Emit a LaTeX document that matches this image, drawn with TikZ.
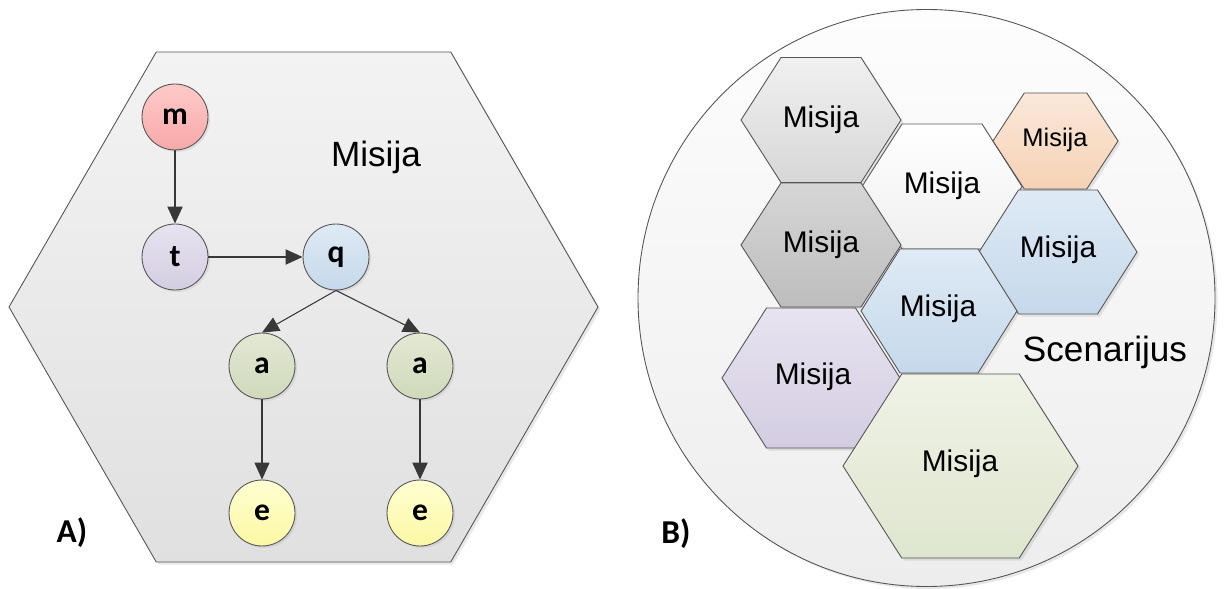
\documentclass[tikz,border=0pt]{standalone}
\usepackage{fontspec}
\setmainfont{Liberation Sans}
\newfontfamily\calibri{Carlito}
\usetikzlibrary{positioning,shadows,arrows.meta}

% gradient colours (top / bottom)
\definecolor{paneltop}{HTML}{F3F3F3}   \definecolor{panelbot}{HTML}{E0E0E0}
\definecolor{ringtop}{HTML}{FDFDFD}    \definecolor{ringbot}{HTML}{EDEDED}
\definecolor{greytop}{HTML}{F0F0F0}    \definecolor{greybot}{HTML}{D7D7D7}
\definecolor{darktop}{HTML}{D6D6D6}    \definecolor{darkbot}{HTML}{BDBDBD}
\definecolor{whitetop}{HTML}{FFFFFF}   \definecolor{whitebot}{HTML}{EFEFEF}
\definecolor{orangetop}{HTML}{FBE8DA}  \definecolor{orangebot}{HTML}{F5D2B5}
\definecolor{bluetop}{HTML}{DFEAF5}    \definecolor{bluebot}{HTML}{C5D8EA}
\definecolor{purpletop}{HTML}{E7E3EF}  \definecolor{purplebot}{HTML}{D4CDE2}
\definecolor{greentop}{HTML}{EFF2E6}   \definecolor{greenbot}{HTML}{DFE6CF}
\definecolor{redtop}{HTML}{FFCACA}     \definecolor{redbot}{HTML}{F7A8A8}
\definecolor{yellowtop}{HTML}{FFFFD2}  \definecolor{yellowbot}{HTML}{FBF8A4}
\definecolor{olivetop}{HTML}{E3E8D3}   \definecolor{olivebot}{HTML}{D0D9BB}
\definecolor{edge}{HTML}{555555}

% flat-topped hexagon: centre x, centre y, half width, half height, style
\newcommand{\misijahex}[5]{%
  \draw[#5] (#1-#3,#2) -- (#1-#3/2,#2-#4) -- (#1+#3/2,#2-#4) -- (#1+#3,#2)
    -- (#1+#3/2,#2+#4) -- (#1-#3/2,#2+#4) -- cycle;}

\begin{document}
\begin{tikzpicture}[
    x=0.02cm, y=-0.02cm,
    % outlines and shadows
    hex/.style={draw=edge, line width=0.5pt,
        drop shadow={shadow xshift=0.05cm, shadow yshift=-0.05cm, opacity=0.18}},
    % graph nodes
    state/.style={circle, draw=edge, line width=0.5pt, minimum size=1.32cm, inner sep=0pt,
        font=\calibri\bfseries\fontsize{18}{18}\selectfont,
        drop shadow={shadow xshift=0.04cm, shadow yshift=-0.04cm, opacity=0.15}},
    link/.style={draw=black!78, line width=1.2pt, -{Triangle[length=0.34cm, width=0.3cm]}},
    thinlink/.style={link, line width=0.6pt},
    % labels
    big/.style={font=\fontsize{20}{24}\selectfont},
    mid/.style={font=\fontsize{17}{20}\selectfont},
    small/.style={font=\fontsize{14.5}{17}\selectfont},
    tag/.style={font=\calibri\bfseries\fontsize{19}{22}\selectfont},
]
\useasboundingbox (0,0) rectangle (1226,588);

% A) one mission as a graph
\misijahex{303.5}{307}{294.5}{255}{hex, top color=paneltop, bottom color=panelbot}
\node[big] (misija-a) at (376,157) {Misija};

\node[state, top color=redtop, bottom color=redbot] (m) at (175,117) {m};
\node[state, top color=purpletop, bottom color=purplebot] (t) at (175,257) {t};
\node[state, top color=bluetop, bottom color=bluebot] (q) at (336,257) {q};
\node[state, top color=olivetop, bottom color=olivebot] (a1) at (262,366) {a};
\node[state, top color=olivetop, bottom color=olivebot] (a2) at (420,366) {a};
\node[state, top color=yellowtop, bottom color=yellowbot] (e1) at (262,513) {e};
\node[state, top color=yellowtop, bottom color=yellowbot] (e2) at (420,513) {e};

\draw[link] (m) -- (t);
\draw[link] (t) -- (q);
\draw[thinlink] (q.south) -- (a1.north);
\draw[thinlink] (q.south) -- (a2.north);
\draw[thinlink] (a1) -- (e1);
\draw[link] (a2) -- (e2);

\node[tag] (label-a) at (72,533) {A)};

% B) a scenario made of missions
\draw[hex, top color=ringtop, bottom color=ringbot] (926.5,298) circle (288.5);

\misijahex{942}{186.5}{80}{62.5}{hex, top color=whitetop, bottom color=whitebot}
\misijahex{821}{120}{80}{62.5}{hex, top color=greytop, bottom color=greybot}
\misijahex{821}{245}{80}{62}{hex, top color=darktop, bottom color=darkbot}
\misijahex{1055.5}{141}{62.5}{48}{hex, top color=orangetop, bottom color=orangebot}
\misijahex{1058}{252}{79}{62}{hex, top color=bluetop, bottom color=bluebot}
\misijahex{939}{311}{78}{62}{hex, top color=bluetop, bottom color=bluebot}
\misijahex{811}{378}{89}{70}{hex, top color=purpletop, bottom color=purplebot}
\misijahex{960.5}{466}{117.5}{92}{hex, top color=greentop, bottom color=greenbot}

\node[mid] (misija-1) at (821,120) {Misija};
\node[mid] (misija-2) at (821,245) {Misija};
\node[mid] (misija-3) at (942,186) {Misija};
\node[small] (misija-4) at (1055,140) {Misija};
\node[mid] (misija-5) at (1058,250) {Misija};
\node[mid] (misija-6) at (938,309) {Misija};
\node[mid] (misija-7) at (813,377) {Misija};
\node[mid] (misija-8) at (960,464) {Misija};
\node[big] (scenarijus) at (1105,352) {Scenarijus};

\node[tag] (label-b) at (676,534) {B)};

\end{tikzpicture}
\end{document}
